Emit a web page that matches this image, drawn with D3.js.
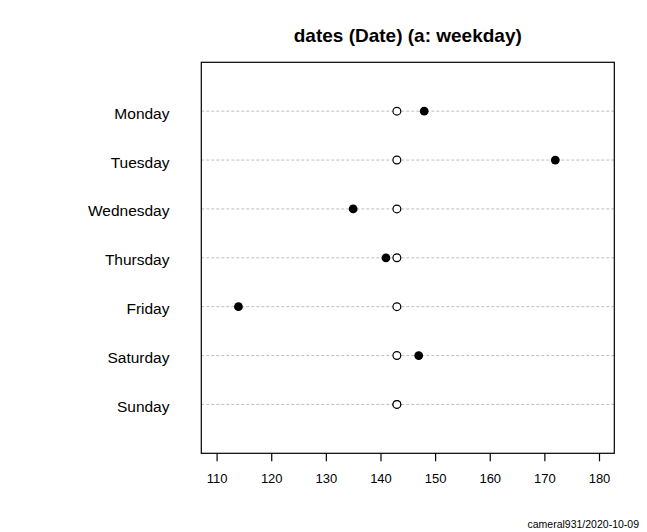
<!DOCTYPE html>
<html lang="en">
<head>
  <meta charset="UTF-8">
  <title>dates (Date) (a: weekday)</title>
  <style>
    body { margin: 0; background: #fff; }
    text { font-family: Arial, "Liberation Sans", sans-serif; }
  </style>
</head>
<body>
  <div class="canvas"></div>
  <script src="https://cdn.jsdelivr.net/npm/d3@7"></script>
  <script>
    const days = ['Monday', 'Tuesday', 'Wednesday', 'Thursday', 'Friday', 'Saturday', 'Sunday'];
    const counts = [148, 172, 135, 141, 114, 147, 143];
    const expected = [143, 143, 143, 143, 143, 143, 143];
    const xTicks = [110, 120, 130, 140, 150, 160, 170, 180];

    const width = 647;
    const height = 532;
    const box = {left: 201.3, right: 614.3, top: 62.3, bottom: 453.3};

    const svg = d3.select('.canvas')
      .append('svg')
      .attr('width', width)
      .attr('height', height);

    // xlim 110..180 with R's 4% padding
    const x = d3.scaleLinear()
      .domain([107.2, 182.8])
      .range([box.left, box.right]);

    const y = d3.scaleLinear()
      .domain([0, days.length + 1])
      .range([box.bottom, box.top]);

    const pos = i => days.length - i;

    // dotted guide lines
    svg.selectAll('line.guide')
      .data(days)
      .enter()
      .append('line')
      .attr('class', 'guide')
      .attr('x1', box.left)
      .attr('x2', box.right)
      .attr('y1', (d, i) => y(pos(i)))
      .attr('y2', (d, i) => y(pos(i)))
      .attr('stroke', '#bebebe')
      .attr('stroke-width', 1)
      .attr('stroke-dasharray', '3,2');

    svg.selectAll('text.day')
      .data(days)
      .enter()
      .append('text')
      .attr('class', 'day')
      .attr('x', 169.5)
      .attr('y', (d, i) => y(pos(i)) + 7.5)
      .attr('text-anchor', 'end')
      .style('font-size', '15.5px')
      .text(d => d);

    svg.selectAll('circle.obs')
      .data(counts)
      .enter()
      .append('circle')
      .attr('class', 'obs')
      .attr('cx', d => x(d))
      .attr('cy', (d, i) => y(pos(i)))
      .attr('r', 4.4)
      .attr('fill', '#000');

    svg.selectAll('circle.exp')
      .data(expected)
      .enter()
      .append('circle')
      .attr('class', 'exp')
      .attr('cx', d => x(d))
      .attr('cy', (d, i) => y(pos(i)))
      .attr('r', 3.9)
      .attr('fill', '#fff')
      .attr('stroke', '#000')
      .attr('stroke-width', 1.2);

    svg.append('rect')
      .attr('x', box.left)
      .attr('y', box.top)
      .attr('width', box.right - box.left)
      .attr('height', box.bottom - box.top)
      .attr('fill', 'none')
      .attr('stroke', '#000')
      .attr('stroke-width', 1.2);

    const gXAxis = svg.append('g')
      .attr('transform', `translate(0, ${box.bottom})`);

    gXAxis.call(d3.axisBottom(x).tickValues(xTicks).tickSize(8).tickPadding(12).tickFormat(d3.format('d')));
    gXAxis.select('.domain').remove();
    gXAxis.selectAll('line').attr('stroke', '#000').attr('stroke-width', 1.2);
    gXAxis.selectAll('text')
      .style('font-size', '13px')
      .style('font-family', 'Arial, "Liberation Sans", sans-serif')
      .attr('fill', '#000');

    svg.append('text')
      .attr('x', (box.left + box.right) / 2)
      .attr('y', 41.5)
      .attr('text-anchor', 'middle')
      .style('font-size', '19px')
      .style('font-weight', 'bold')
      .text('dates (Date) (a: weekday)');

    svg.append('text')
      .attr('x', 639)
      .attr('y', 528)
      .attr('text-anchor', 'end')
      .style('font-size', '10.5px')
      .text('cameral931/2020-10-09');
  </script>
</body>
</html>
